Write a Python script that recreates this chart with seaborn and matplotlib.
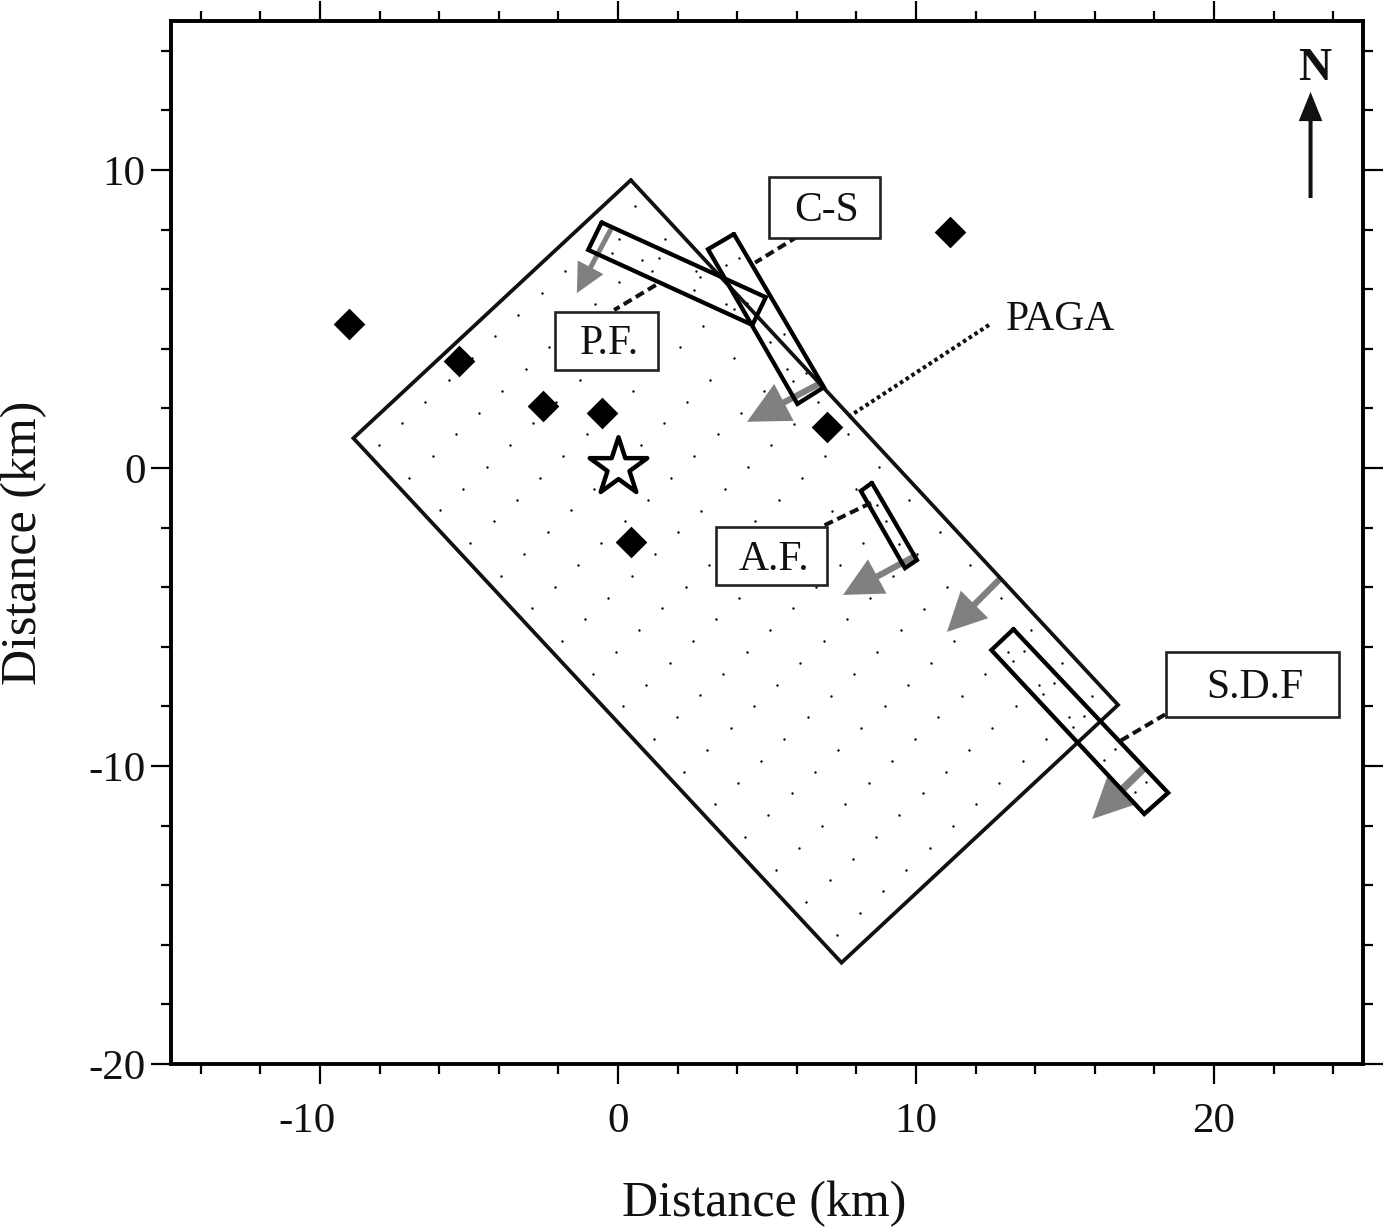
import matplotlib
matplotlib.use('Agg')
import matplotlib.pyplot as plt
import seaborn as sns
from matplotlib.patches import Rectangle
from matplotlib.transforms import ScaledTranslation

# outline of the main fault plane, km
plane_x = [0.43, 16.78, 7.50, -8.88]
plane_y = [9.66, -7.95, -16.60, 1.00]

# sub-fault rectangles
patches_km = {
    'P.F.': ([-0.55, 4.96, 4.51, -1.00], [8.24, 5.73, 4.80, 7.32]),
    'C-S': ([3.89, 6.91, 6.02, 3.02], [7.85, 2.71, 2.15, 7.34]),
    'A.F.': ([8.52, 10.03, 9.63, 8.15], [-0.50, -3.09, -3.36, -0.77]),
    'S.D.F': ([13.27, 18.46, 17.66, 12.53], [-5.41, -10.90, -11.61, -6.11]),
}

# stations and epicentre
station_x = [-9.04, -5.32, -2.53, -0.55, 7.00, 11.13, 0.42]
station_y = [4.83, 3.59, 2.08, 1.85, 1.38, 7.92, -2.48]
epicentre_x = [0.0]
epicentre_y = [0.05]

# source grid, one row per line along dip
grid_x = [
    -8.02, -7.24, -6.46, -5.68, -4.90, -4.12, -3.34, -2.56, -1.78, -1.00, -0.22, 0.56,
    -7.00, -6.22, -5.44, -4.66, -3.88, -3.10, -2.32, -1.54, -0.76, 0.02, 0.80, 1.58,
    -5.97, -5.19, -4.41, -3.63, -2.85, -2.07, -1.29, -0.51, 0.27, 1.05, 2.61,
    -4.95, -4.17, -3.39, -2.61, -1.83, -1.05, -0.27, 0.51, 1.29, 2.07, 2.85, 3.63,
    -3.92, -3.14, -2.36, -1.58, -0.80, -0.02, 0.76, 1.54, 2.32, 3.10, 3.88, 4.66,
    -2.90, -2.12, -1.34, -0.56, 0.22, 1.00, 1.78, 2.56, 3.34, 4.12, 4.90, 5.68,
    -1.88, -1.10, -0.32, 0.46, 1.24, 2.02, 2.80, 3.58, 4.36, 5.14, 5.92, 6.70,
    -0.85, -0.07, 0.71, 1.49, 2.27, 3.05, 3.83, 4.61, 5.39, 6.17, 6.95, 7.73,
    0.17, 0.95, 1.73, 2.51, 3.29, 4.07, 4.85, 5.63, 6.41, 7.19, 7.97, 8.75,
    1.20, 1.98, 2.76, 3.54, 4.32, 5.10, 5.88, 6.66, 7.44, 8.22, 9.00, 9.78,
    2.22, 3.00, 3.78, 4.56, 5.34, 6.12, 6.90, 7.68, 8.46, 9.24, 10.02, 10.80,
    3.24, 4.02, 4.80, 5.58, 6.36, 7.14, 7.92, 8.70, 9.48, 10.26, 11.04, 11.82,
    4.27, 5.05, 5.83, 6.61, 7.39, 8.17, 8.95, 9.73, 10.51, 11.29, 12.07, 12.85,
    5.29, 6.07, 6.85, 7.63, 8.41, 9.19, 9.97, 10.75, 11.53, 12.31, 13.09, 13.87,
    6.32, 7.10, 7.88, 8.66, 9.44, 10.22, 11.00, 11.78, 12.56, 13.34, 14.12, 14.90,
    7.34, 8.12, 8.90, 9.68, 10.46, 11.24, 12.02, 12.80, 13.58, 14.36, 15.14, 15.92,
]
grid_y = [
    0.77, 1.50, 2.23, 2.96, 3.69, 4.42, 5.15, 5.88, 6.61, 7.34, 8.07, 8.80,
    -0.33, 0.40, 1.13, 1.86, 2.59, 3.32, 4.05, 4.78, 5.51, 6.24, 6.97, 7.70,
    -1.42, -0.69, 0.04, 0.77, 1.50, 2.23, 2.96, 3.69, 4.42, 5.15, 6.61,
    -2.52, -1.79, -1.06, -0.33, 0.40, 1.13, 1.86, 2.59, 3.32, 4.05, 4.78, 5.51,
    -3.61, -2.88, -2.15, -1.42, -0.69, 0.04, 0.77, 1.50, 2.23, 2.96, 3.69, 4.42,
    -4.71, -3.98, -3.25, -2.52, -1.79, -1.06, -0.33, 0.40, 1.13, 1.86, 2.59, 3.32,
    -5.81, -5.08, -4.35, -3.62, -2.89, -2.16, -1.43, -0.70, 0.03, 0.76, 1.49, 2.22,
    -6.90, -6.17, -5.44, -4.71, -3.98, -3.25, -2.52, -1.79, -1.06, -0.33, 0.40, 1.13,
    -8.00, -7.27, -6.54, -5.81, -5.08, -4.35, -3.62, -2.89, -2.16, -1.43, -0.70, 0.03,
    -9.09, -8.36, -7.63, -6.90, -6.17, -5.44, -4.71, -3.98, -3.25, -2.52, -1.79, -1.06,
    -10.19, -9.46, -8.73, -8.00, -7.27, -6.54, -5.81, -5.08, -4.35, -3.62, -2.89, -2.16,
    -11.29, -10.56, -9.83, -9.10, -8.37, -7.64, -6.91, -6.18, -5.45, -4.72, -3.99, -3.26,
    -12.38, -11.65, -10.92, -10.19, -9.46, -8.73, -8.00, -7.27, -6.54, -5.81, -5.08, -4.35,
    -13.48, -12.75, -12.02, -11.29, -10.56, -9.83, -9.10, -8.37, -7.64, -6.91, -6.18, -5.45,
    -14.57, -13.84, -13.11, -12.38, -11.65, -10.92, -10.19, -9.46, -8.73, -8.00, -7.27, -6.54,
    -15.67, -14.94, -14.21, -13.48, -12.75, -12.02, -11.29, -10.56, -9.83, -9.10, -8.37, -7.64,
]

# extra points inside the small rectangles
extra_x = [0.03, -0.21, 1.38, 1.15, 2.74, 2.54, 4.06, 3.89, 4.34,
           3.61, 4.07, 5.11, 5.56, 5.88, 6.32,
           8.70, 9.44,
           13.61, 13.24, 14.63, 14.26, 15.65, 15.27, 16.68, 16.30, 17.71, 17.35]
extra_y = [7.70, 7.23, 7.04, 6.60, 6.42, 5.97, 5.78, 5.32, 5.53,
           6.81, 7.06, 4.22, 4.49, 2.93, 3.20,
           -1.25, -2.56,
           -6.14, -6.49, -7.23, -7.58, -8.32, -8.69, -9.42, -9.79, -10.53, -10.86]

# slip vectors: tail x, tail y, tip x, tip y
slip_vectors = [
    (-0.24, 8.01, -1.38, 5.87),
    (6.80, 2.85, 4.33, 1.55),
    (10.03, -2.92, 7.55, -4.26),
    (12.85, -3.69, 11.04, -5.50),
    (17.62, -10.10, 15.91, -11.78),
]
slip_heads = [(3.6, 21, 21), (4.5, 30, 30), (4.5, 28, 28), (4.5, 28, 28), (5.5, 30, 31)]

leaders = [
    ([6.03, 4.60], [7.77, 6.89]),
    ([1.27, -0.13], [6.14, 5.30]),
    ([8.49, 6.81], [-1.17, -1.98]),
    ([18.36, 16.87], [-8.27, -9.15]),
]
paga_x = [12.45, 7.68]
paga_y = [4.80, 1.68]

# label boxes: left, bottom, width, height in km
boxes = [
    ('C-S', 5.07, 7.72, 3.72, 2.05),
    ('P.F.', -2.11, 3.30, 3.46, 1.95),
    ('A.F.', 3.30, -3.93, 3.72, 1.95),
    ('S.D.F', 18.40, -8.36, 5.80, 2.18),
]

sns.set_theme(style='ticks')
plt.rcParams['font.family'] = ['Liberation Serif', 'DejaVu Serif']
plt.rcParams['axes.linewidth'] = 2.8
plt.rcParams['axes.edgecolor'] = 'black'
plt.rcParams['axes.unicode_minus'] = False
plt.rcParams['text.color'] = '#111111'

fig = plt.figure(figsize=(13.84, 12.28), dpi=100)
ax = fig.add_axes([171 / 1384, 1 - 1064 / 1228, (1363 - 171) / 1384, (1064 - 21) / 1228])

sns.scatterplot(x=grid_x, y=grid_y, ax=ax, color='black', s=3, marker='o', linewidth=0, zorder=1)
sns.scatterplot(x=extra_x, y=extra_y, ax=ax, color='black', s=3, marker='o', linewidth=0, zorder=1)

for x0, y0, x1, y1 in slip_vectors:
    w, hw, hl = slip_heads[slip_vectors.index((x0, y0, x1, y1))]
    ax.annotate('', xy=(x1, y1), xytext=(x0, y0), zorder=2,
                arrowprops=dict(width=w, headwidth=hw, headlength=hl, facecolor='#808080',
                                edgecolor='none', linewidth=0))

ax.plot(plane_x + plane_x[:1], plane_y + plane_y[:1], color='#111111', lw=2.7,
        solid_joinstyle='miter', zorder=3)
for name in patches_km:
    px, py = patches_km[name]
    ax.plot(px + px[:1], py + py[:1], color='black', lw=3.1, solid_joinstyle='miter', zorder=4)

for lx, ly in leaders:
    ax.plot(lx, ly, color='#111111', lw=2.9, linestyle=(0, (2.3, 1.2)), zorder=4)
ax.plot(paga_x, paga_y, color='#111111', lw=2.9, linestyle=(0, (0.9, 0.8)), zorder=4)

for label, left, bottom, w, h in boxes:
    ax.add_patch(Rectangle((left, bottom), w, h, facecolor='white', edgecolor='#222222',
                           lw=1.9, zorder=5))
    ax.text(left + w / 2 + 0.08, bottom + h / 2 - 0.11, label, ha='center', va='center',
            fontsize=30, zorder=6)
ax.text(14.85, 4.97, 'PAGA', ha='center', va='center', fontsize=30, zorder=6)

sns.scatterplot(x=station_x, y=station_y, ax=ax, color='black', marker='D', s=260,
                linewidth=0, zorder=7)
sns.scatterplot(x=epicentre_x, y=epicentre_y, ax=ax, facecolor='white', edgecolor='black',
                marker='*', s=1900, linewidth=3.2, zorder=7)

# north arrow
ax.annotate('', xy=(23.24, 12.62), xytext=(23.24, 9.06), zorder=8,
            arrowprops=dict(width=2.9, headwidth=17, headlength=21, facecolor='#111111',
                            edgecolor='none', linewidth=0))
ax.text(23.24 + 0.14, 13.38, 'N', ha='center', va='center', fontsize=33, fontweight='bold')

ax.set_xlim(-15, 25)
ax.set_ylim(-20, 15)
ax.set_xticks([-10, 0, 10, 20])
ax.set_yticks([-20, -10, 0, 10])
ax.set_xticks([v for v in range(-14, 25, 2) if v % 10 != 0], minor=True)
ax.set_yticks([v for v in range(-18, 15, 2) if v % 10 != 0], minor=True)
ax.tick_params(which='major', length=14.4, width=1.6, direction='out', top=True, right=True,
               labelsize=31, color='black', labelcolor='#111111')
ax.tick_params(which='minor', length=7, width=1.6, direction='out', top=True, right=True,
               color='black')
ax.tick_params(axis='x', which='major', pad=13.5)
ax.tick_params(axis='y', which='major', pad=4)
ax.set_xlabel('Distance (km)', fontsize=36, color='#111111')
ax.set_ylabel('Distance (km)', fontsize=36, color='#111111')
ax.xaxis.set_label_coords(0.498, -0.112)
ax.yaxis.set_label_coords(-0.104, 0.5)

# the -10 label sits left of its tick in the original
lbl = ax.get_xticklabels()[0]
lbl.set_transform(lbl.get_transform() + ScaledTranslation(-0.13, 0, fig.dpi_scale_trans))

fig.savefig('out.png', dpi=100)
